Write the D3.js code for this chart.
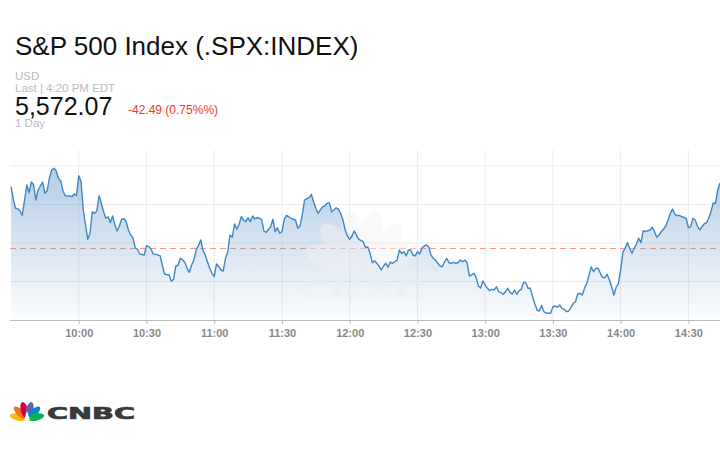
<!DOCTYPE html>
<html>
<head>
<meta charset="utf-8">
<script src="https://cdn.jsdelivr.net/npm/d3@7"></script>
<style>
  body { margin: 0; background: #fff; }
  svg { display: block; font-family: "Liberation Sans", Arial, sans-serif; }
</style>
</head>
<body>
<svg id="chart" width="720" height="450"></svg>
<script>
// Intraday S&P 500 line with shaded area, prev-close marker and CNBC branding.

const title = "S&P 500 Index (.SPX:INDEX)";
const currency = "USD";
const lastLabel = "Last | 4:20 PM EDT";
const lastPrice = 5572.07;
const change = -42.49;
const changePct = 0.75;
const rangeLabel = "1 Day";

// minutes after the 9:30 open, and price at that minute
const minutes = [
  0, 1, 2, 3, 4, 5, 6, 7, 8, 9, 10, 11, 12, 14, 15, 16, 17, 18, 19, 20,
  21, 22, 23, 24, 26, 27, 28, 29, 30, 31, 32, 33, 34, 35, 36, 37, 38, 39, 40, 41,
  42, 43, 44, 45, 46, 47, 48, 49, 50, 51, 52, 53, 54, 55, 56, 57, 59, 60, 61, 62,
  63, 64, 66, 67, 68, 69, 70, 71, 72, 73, 74, 75, 76, 77, 78, 79, 80, 81, 82, 83,
  84, 85, 86, 87, 88, 89, 90, 91, 92, 93, 94, 95, 96, 97, 98, 99, 100, 101, 102, 103,
  104, 105, 106, 107, 108, 109, 110, 111, 112, 113, 115, 116, 117, 118, 119, 120, 121, 122, 123, 124,
  126, 127, 128, 129, 130, 131, 132, 133, 134, 135, 136, 137, 138, 139, 140, 141, 142, 143, 144, 145,
  146, 147, 148, 149, 150, 151, 152, 153, 154, 156, 157, 158, 159, 160, 161, 162, 163, 164, 165, 166,
  167, 168, 169, 170, 171, 172, 173, 174, 175, 176, 177, 178, 179, 180, 181, 182, 183, 184, 185, 186,
  187, 188, 189, 190, 191, 192, 193, 194, 195, 196, 197, 198, 199, 200, 201, 202, 203, 204, 205, 206,
  207, 208, 209, 210, 211, 212, 213, 214, 215, 216, 217, 218, 219, 220, 221, 222, 223, 224, 225, 226,
  227, 228, 229, 230, 231, 232, 233, 234, 235, 236, 237, 238, 239, 240, 241, 242, 243, 244, 245, 246,
  247, 248, 249, 250, 251, 252, 253, 254, 255, 256, 257, 258, 259, 260, 261, 262, 263, 264, 265, 266,
  267, 268, 269, 270, 271, 272, 273, 274, 275, 276, 277, 278, 279, 280, 281, 282, 283, 284, 285, 286,
  287, 288, 289, 290, 291, 292, 293, 294, 295, 296, 297, 298, 299, 300, 301, 302, 303, 304, 305, 306,
  307, 308, 309, 310, 311, 312, 313, 314
];
const prices = [
  5630.62, 5627.43, 5625.01, 5624.91, 5624.31, 5623.19, 5627.17, 5631.06, 5629.06, 5631.84,
  5631.14, 5627.17, 5629.77, 5631.84, 5628.91, 5629.51, 5632.81, 5634.96, 5635.40, 5634.78,
  5632.81, 5632.18, 5629.58, 5628.29, 5628.21, 5628.03, 5628.73, 5628.29, 5633.48, 5632.10,
  5624.57, 5620.68, 5616.96, 5618.52, 5624.13, 5623.71, 5624.31, 5628.29, 5626.31, 5624.13,
  5622.42, 5622.83, 5621.27, 5623.01, 5620.68, 5619.12, 5620.42, 5622.16, 5622.31, 5621.53,
  5619.38, 5618.08, 5617.38, 5614.78, 5614.36, 5613.14, 5612.88, 5615.30, 5615.04, 5614.44,
  5613.14, 5613.06, 5612.70, 5610.29, 5607.95, 5607.77, 5607.77, 5606.05, 5606.57, 5610.03,
  5610.21, 5612.03, 5611.58, 5610.99, 5609.43, 5608.39, 5610.29, 5611.58, 5614.18, 5615.30,
  5616.78, 5614.18, 5612.88, 5611.14, 5609.43, 5608.13, 5607.25, 5610.55, 5609.84, 5608.99,
  5608.73, 5612.03, 5613.74, 5618.08, 5617.48, 5620.94, 5619.56, 5620.81, 5622.83, 5621.97,
  5621.53, 5622.57, 5621.53, 5623.01, 5622.23, 5622.57, 5622.42, 5622.16, 5619.12, 5618.78,
  5620.23, 5622.16, 5618.94, 5619.97, 5618.52, 5618.94, 5622.16, 5623.19, 5622.83, 5622.42,
  5621.97, 5619.82, 5620.42, 5623.27, 5627.17, 5627.51, 5627.77, 5628.65, 5626.73, 5625.01,
  5623.71, 5624.57, 5625.43, 5625.61, 5626.31, 5626.47, 5624.13, 5624.57, 5625.17, 5624.75,
  5623.71, 5621.97, 5619.38, 5617.82, 5616.96, 5617.82, 5619.12, 5618.00, 5616.96, 5616.34,
  5614.83, 5614.96, 5613.40, 5610.88, 5611.40, 5610.73, 5610.03, 5608.99, 5610.03, 5610.73,
  5609.69, 5611.06, 5610.73, 5611.14, 5611.58, 5614.18, 5613.32, 5613.74, 5612.62, 5614.18,
  5614.18, 5612.88, 5612.62, 5613.74, 5613.14, 5614.70, 5615.22, 5615.48, 5615.04, 5612.88,
  5612.03, 5611.58, 5610.73, 5610.03, 5609.84, 5611.14, 5611.97, 5610.88, 5610.73, 5610.99,
  5610.73, 5610.88, 5611.58, 5611.14, 5611.58, 5610.88, 5607.43, 5607.69, 5608.13, 5606.99,
  5604.83, 5604.31, 5606.13, 5605.09, 5604.23, 5603.61, 5603.97, 5603.79, 5604.65, 5603.35,
  5603.09, 5602.68, 5603.35, 5604.23, 5603.19, 5602.75, 5603.79, 5602.68, 5603.61, 5603.97,
  5605.79, 5605.69, 5604.23, 5604.23, 5602.05, 5600.16, 5598.60, 5598.34, 5599.77, 5598.16,
  5597.74, 5597.74, 5597.74, 5599.45, 5599.64, 5599.30, 5599.90, 5599.04, 5598.78, 5598.16,
  5598.34, 5599.30, 5600.34, 5600.75, 5602.75, 5602.94, 5602.49, 5604.23, 5605.53, 5607.69,
  5609.77, 5608.55, 5609.43, 5609.43, 5608.13, 5607.09, 5606.99, 5607.87, 5606.39, 5604.65,
  5602.49, 5604.49, 5605.53, 5608.99, 5613.66, 5614.62, 5616.08, 5614.62, 5613.32, 5614.62,
  5615.74, 5617.22, 5616.08, 5619.19, 5618.94, 5619.19, 5619.38, 5620.08, 5618.94, 5617.48,
  5618.08, 5618.94, 5619.64, 5620.42, 5621.97, 5623.71, 5624.83, 5623.45, 5623.09, 5623.19,
  5622.83, 5622.68, 5622.42, 5619.97, 5620.23, 5622.42, 5621.97, 5620.42, 5619.38, 5620.23,
  5620.94, 5621.27, 5622.42, 5624.13, 5626.39, 5626.31, 5629.77, 5631.58
];
const prevClose = lastPrice - change;

const timeTicks = ["10:00", "10:30", "11:00", "11:30", "12:00", "12:30", "13:00", "13:30", "14:00", "14:30"];
const priceGrid = [5606, 5616, 5626, 5636];
const priceFloor = 5596;

const logoColors = ["#fcb711", "#f37021", "#cc004c", "#6460aa", "#0089d0", "#0db14b"];

const svg = d3.select("#chart");
const plot = { left: 10, right: 720, top: 150, bottom: 320 };

const open = new Date(2024, 8, 6, 9, 30);
const toDate = m => d3.timeMinute.offset(open, m);
const parseTick = d3.timeParse("%H:%M");
const tickDates = timeTicks.map(t => {
  const d = parseTick(t);
  return new Date(2024, 8, 6, d.getHours(), d.getMinutes());
});

const x = d3.scaleTime()
  .domain([open, toDate(314)])
  .range([11, 720]);
const y = d3.scaleLinear()
  .domain([priceFloor, priceGrid[priceGrid.length - 1]])
  .range([plot.bottom, 166]);

const data = minutes.map((m, i) => ({ t: toDate(m), v: prices[i] }));

// plain hyphen for negatives, as on the page
const fmt2 = v => (v < 0 ? "-" : "") + Math.abs(v).toFixed(2);

// Header texts
svg.append("text").attr("x", 15).attr("y", 55)
  .attr("font-size", 26).attr("fill", "#111").text(title);
svg.append("text").attr("x", 15).attr("y", 80)
  .attr("font-size", 11.5).attr("fill", "#bbb").text(currency);
svg.append("text").attr("x", 15).attr("y", 92)
  .attr("font-size", 11.5).attr("fill", "#bbb").text(lastLabel);
svg.append("text").attr("x", 15).attr("y", 115)
  .attr("font-size", 25).attr("fill", "#111").text(d3.format(",.2f")(lastPrice));
svg.append("text").attr("x", 128).attr("y", 114)
  .attr("font-size", 12).attr("fill", "#e8392b")
  .text(`${fmt2(change)} (${fmt2(changePct)}%%)`);
svg.append("text").attr("x", 15).attr("y", 127)
  .attr("font-size", 11.5).attr("fill", "#bbb").text(rangeLabel);

// Gradient for the area
const defs = svg.append("defs");
const grad = defs.append("linearGradient")
  .attr("id", "area-grad")
  .attr("gradientUnits", "userSpaceOnUse")
  .attr("x1", 0).attr("y1", 166).attr("x2", 0).attr("y2", plot.bottom);
grad.append("stop").attr("offset", "0%").attr("stop-color", "#4a86c0").attr("stop-opacity", 0.42);
grad.append("stop").attr("offset", "100%").attr("stop-color", "#4a86c0").attr("stop-opacity", 0.02);

// Grid
const grid = svg.append("g").attr("class", "grid");
grid.selectAll("line.v").data(tickDates).enter().append("line")
  .attr("x1", d => x(d)).attr("x2", d => x(d))
  .attr("y1", plot.top).attr("y2", plot.bottom)
  .attr("stroke", "#ececec").attr("stroke-width", 1);
grid.selectAll("line.h").data(priceGrid).enter().append("line")
  .attr("x1", plot.left).attr("x2", plot.right)
  .attr("y1", d => y(d)).attr("y2", d => y(d))
  .attr("stroke", "#ececec").attr("stroke-width", 1);

// Previous close (under the area)
svg.append("line")
  .attr("x1", plot.left).attr("x2", plot.right)
  .attr("y1", y(prevClose)).attr("y2", y(prevClose))
  .attr("stroke", "#f29a86").attr("stroke-width", 1)
  .attr("stroke-dasharray", "6,4");

// Area + line
const area = d3.area().x(d => x(d.t)).y0(plot.bottom).y1(d => y(d.v));
const line = d3.line().x(d => x(d.t)).y(d => y(d.v));
svg.append("path").datum(data).attr("fill", "url(#area-grad)").attr("d", area);

// Faint CNBC watermark
const wm = svg.append("g").attr("opacity", 0.45);
const wmBase = [362, 268];
[-72, -43, -14, 14, 43, 72].forEach(a => {
  wm.append("ellipse")
    .attr("cx", 0).attr("cy", -30).attr("rx", 12).attr("ry", 28)
    .attr("fill", "#f2f2f2")
    .attr("transform", `translate(${wmBase[0]},${wmBase[1]}) rotate(${a})`);
});
wm.append("text").attr("x", 362).attr("y", 300)
  .attr("text-anchor", "middle").attr("font-size", 28).attr("font-weight", "bold")
  .attr("font-family", "DejaVu Sans, sans-serif")
  .attr("textLength", 122).attr("lengthAdjust", "spacingAndGlyphs")
  .attr("fill", "#eeeeee").text("CNBC");

svg.append("path").datum(data)
  .attr("fill", "none").attr("stroke", "#3f87c5")
  .attr("stroke-width", 1.4).attr("stroke-linejoin", "round")
  .attr("d", line);

// X axis
const xAxis = d3.axisBottom(x)
  .tickValues(tickDates)
  .tickFormat(d3.timeFormat("%-H:%M"))
  .tickSize(4).tickSizeOuter(0);
const gx = svg.append("g").attr("transform", `translate(0,${plot.bottom})`).call(xAxis);
gx.select(".domain").attr("d", `M${plot.left},0.5H${plot.right}`).attr("stroke", "#bbb");
gx.selectAll(".tick line").attr("stroke", "#bbb");
gx.selectAll(".tick text")
  .attr("fill", "#888").attr("font-size", 11).attr("font-weight", "bold")
  .attr("font-family", "Liberation Sans, Arial, sans-serif").attr("dy", "0.9em");

// CNBC logo bottom-left
const logo = svg.append("g").attr("transform", "translate(27,419)");
const angles = [-78, -47, -16, 16, 47, 78];
angles.forEach((a, i) => {
  logo.append("ellipse")
    .attr("cx", 0).attr("cy", -9).attr("rx", 3.6).attr("ry", 8.5)
    .attr("fill", logoColors[i])
    .attr("transform", `rotate(${a})`);
});
logo.append("path")
  .attr("d", "M-3,1 L0,-8 L3,1 Z").attr("fill", "#fff");
svg.append("text").attr("x", 47).attr("y", 418.5)
  .attr("font-size", 16).attr("font-weight", "bold")
  .attr("font-family", "DejaVu Sans, sans-serif")
  .attr("textLength", 88).attr("lengthAdjust", "spacingAndGlyphs")
  .attr("fill", "#3a3a3a").attr("stroke", "#3a3a3a").attr("stroke-width", 0.7)
  .text("CNBC");
</script>
</body>
</html>
